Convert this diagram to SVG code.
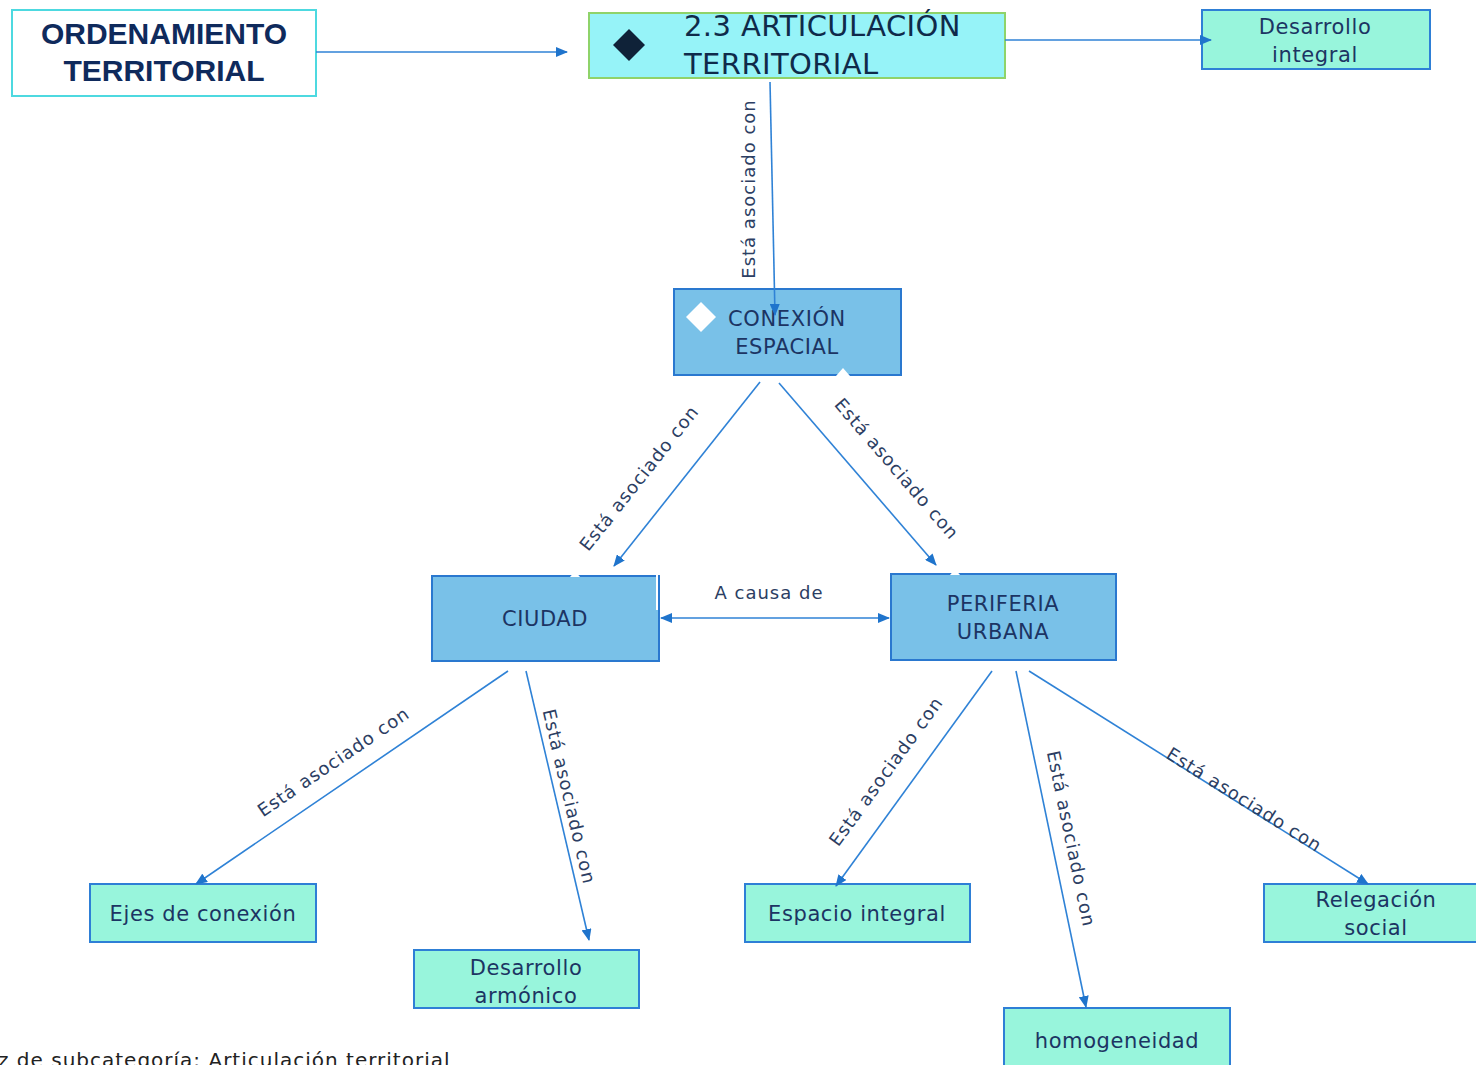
<svg xmlns="http://www.w3.org/2000/svg" width="1476" height="1065" viewBox="0 0 1476 1065">
<defs>
<marker id="ah" viewBox="0 0 12 10" refX="11" refY="5" markerWidth="12" markerHeight="10" markerUnits="userSpaceOnUse" orient="auto-start-reverse">
<path d="M0,0 L12,5 L0,10 Z" fill="#1f74cc"/>
</marker>
<style>
.bg{fill:#ffffff}
.conn line{stroke:#2f82d6;stroke-width:1.6;fill:none}
.lbl{font-family:"DejaVu Sans",sans-serif;font-size:18px;letter-spacing:1px;fill:#2c3e63;text-anchor:middle}
.t{font-family:"DejaVu Sans",sans-serif;font-size:21px;letter-spacing:0.6px;fill:#1c3463;text-anchor:middle}
.mint{fill:#98f5dc;stroke:#2e7fd6;stroke-width:2}
.blue{fill:#79c1e8;stroke:#2a78cf;stroke-width:2}
</style>
</defs>
<rect class="bg" x="0" y="0" width="1476" height="1065"/>

<g id="ordenamiento">
<rect x="12" y="10" width="304" height="86" fill="#ffffff" stroke="#4dd9e0" stroke-width="2"/>
<text x="164" y="44" font-family="Liberation Sans, sans-serif" font-weight="bold" font-size="30" fill="#0f2a5c" text-anchor="middle">ORDENAMIENTO</text>
<text x="164" y="81" font-family="Liberation Sans, sans-serif" font-weight="bold" font-size="30" fill="#0f2a5c" text-anchor="middle">TERRITORIAL</text>
</g>

<g id="articulacion">
<rect x="589" y="13" width="416" height="65" fill="#96f3f8" stroke="#8fd36a" stroke-width="2"/>
<path d="M629,29 L645,45 L629,61 L613,45 Z" fill="#0f2238"/>
<text x="684" y="36" font-family="DejaVu Sans, sans-serif" font-size="29" letter-spacing="0.4" fill="#0f2a4a">2.3 ARTICULACIÓN</text>
<text x="684" y="74" font-family="DejaVu Sans, sans-serif" font-size="29" letter-spacing="0.4" fill="#0f2a4a">TERRITORIAL</text>
</g>

<g id="desarrollo-integral">
<rect class="mint" x="1202" y="10" width="228" height="59"/>
<text class="t" x="1315" y="34">Desarrollo</text>
<text class="t" x="1315" y="62">integral</text>
</g>

<g id="conexion-espacial">
<rect class="blue" x="674" y="289" width="227" height="86"/>
<path d="M701,302 L716,317 L701,332 L686,317 Z" fill="#ffffff"/>
<path d="M836,376 L843,368 L850,376 Z" fill="#ffffff"/>
<text class="t" x="787" y="326">CONEXIÓN</text>
<text class="t" x="787" y="354">ESPACIAL</text>
</g>

<g id="ciudad">
<rect class="blue" x="432" y="576" width="227" height="85"/>
<path d="M570,577 L575,571 L580,577 Z" fill="#ffffff"/>
<line x1="657" y1="575" x2="657" y2="610" stroke="#ffffff" stroke-width="2"/>
<text class="t" x="545" y="626">CIUDAD</text>
</g>

<g id="periferia-urbana">
<rect class="blue" x="891" y="574" width="225" height="86"/>
<path d="M950,575 L955,569 L960,575 Z" fill="#ffffff"/>
<text class="t" x="1003" y="611">PERIFERIA</text>
<text class="t" x="1003" y="639">URBANA</text>
</g>

<g id="ejes-conexion">
<rect class="mint" x="90" y="884" width="226" height="58"/>
<text class="t" x="203" y="921">Ejes de conexión</text>
</g>

<g id="desarrollo-armonico">
<rect class="mint" x="414" y="950" width="225" height="58"/>
<text class="t" x="526" y="975">Desarrollo</text>
<text class="t" x="526" y="1003">armónico</text>
</g>

<g id="espacio-integral">
<rect class="mint" x="745" y="884" width="225" height="58"/>
<text class="t" x="857" y="921">Espacio integral</text>
</g>

<g id="homogeneidad">
<rect class="mint" x="1004" y="1008" width="226" height="70"/>
<text class="t" x="1117" y="1048">homogeneidad</text>
</g>

<g id="relegacion-social">
<rect class="mint" x="1264" y="884" width="220" height="58"/>
<text class="t" x="1376" y="907">Relegación</text>
<text class="t" x="1376" y="935">social</text>
</g>

<g id="conectores" class="conn">
<line x1="316" y1="52" x2="567" y2="52" marker-end="url(#ah)"/>
<line x1="1005" y1="40" x2="1211" y2="40" marker-end="url(#ah)"/>
<line x1="770" y1="82" x2="775" y2="315" marker-end="url(#ah)"/>
<line x1="760" y1="382" x2="614" y2="566" marker-end="url(#ah)"/>
<line x1="779" y1="383" x2="936" y2="565" marker-end="url(#ah)"/>
<line x1="661" y1="618" x2="889" y2="618" marker-start="url(#ah)" marker-end="url(#ah)"/>
<line x1="508" y1="671" x2="196" y2="884" marker-end="url(#ah)"/>
<line x1="526" y1="671" x2="589" y2="940" marker-end="url(#ah)"/>
<line x1="992" y1="671" x2="836" y2="886" marker-end="url(#ah)"/>
<line x1="1016" y1="671" x2="1086" y2="1007" marker-end="url(#ah)"/>
<line x1="1029" y1="671" x2="1368" y2="884" marker-end="url(#ah)"/>
<text class="lbl" transform="translate(755,189) rotate(-90)">Está asociado con</text>
<text class="lbl" transform="translate(644,482) rotate(-51.6)">Está asociado con</text>
<text class="lbl" transform="translate(892,473) rotate(49.2)">Está asociado con</text>
<text class="lbl" x="769" y="599">A causa de</text>
<text class="lbl" transform="translate(337,767) rotate(-34.3)">Está asociado con</text>
<text class="lbl" transform="translate(563,798) rotate(76.8)">Está asociado con</text>
<text class="lbl" transform="translate(891,775) rotate(-54)">Está asociado con</text>
<text class="lbl" transform="translate(1065,840) rotate(78.2)">Está asociado con</text>
<text class="lbl" transform="translate(1241,805) rotate(32.1)">Está asociado con</text>
</g>

<text x="-2" y="1067" font-family="DejaVu Sans, sans-serif" font-size="20" letter-spacing="1" fill="#222222">z de subcategoría: Articulación territorial</text>
</svg>
